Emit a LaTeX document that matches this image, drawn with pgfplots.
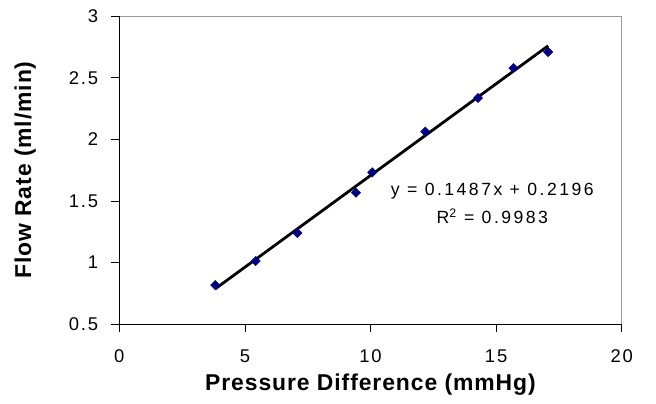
\documentclass[border=0pt]{standalone}
\usepackage{fontspec}
\setmainfont{Liberation Sans}
\newfontfamily\tickfont[LetterSpace=10]{Liberation Sans}
\newfontfamily\eqfont[LetterSpace=14]{Liberation Sans}
\newfontfamily\labfont[LetterSpace=4]{Liberation Sans}
\usepackage{pgfplots}
\pgfplotsset{compat=1.18}
\definecolor{navy}{RGB}{0,0,128}
\begin{document}
\begin{tikzpicture}
\useasboundingbox (-119.3bp,-79.7bp) rectangle (536.7bp,308.3bp+16bp);
\begin{axis}[
  at={(0,0)}, anchor=south west,
  scale only axis,
  width=502.4bp, height=308.3bp,
  xmin=0, xmax=20, ymin=0.5, ymax=3,
  xtick={0,5,10,15,20},
  ytick={0.5,1,1.5,2,2.5,3},
  xtick pos=bottom, ytick pos=left,
  tick align=outside,
  major tick length=8bp,
  tick style={black, line width=0.8bp},
  axis line style={gray!80, line width=0.8bp},
  /pgf/number format/assume math mode=true,
  /pgf/number format/fixed,
  ticklabel style={font=\tickfont\fontsize{18.5}{20}\selectfont, inner sep=0pt},
  xticklabel style={anchor=north, yshift=-17bp},
  yticklabel style={anchor=east, xshift=-13bp},
  xlabel={Pressure Difference (mmHg)},
  ylabel={Flow Rate (ml/min)},
  label style={font=\labfont\bfseries\fontsize{23}{25}\selectfont},
  xlabel style={at={(axis description cs:0.5,0)}, anchor=center, yshift=-60bp},
  ylabel style={at={([xshift=-94bp]axis description cs:0,0.5)}, anchor=center},
  clip=false,
]
\draw[black, line width=0.8bp] (rel axis cs:0,0) -- (rel axis cs:0,1);
\draw[black, line width=0.8bp] (rel axis cs:0,0) -- (rel axis cs:1,0);
\addplot[only marks, mark=square*, mark size=3.3bp, mark options={rotate=45, fill=navy, draw=navy}]
  coordinates {
  (3.82,0.818) (5.43,1.013) (7.09,1.240) (9.42,1.567) (10.07,1.732)
  (12.18,2.062) (14.28,2.335) (15.69,2.578) (17.07,2.708)
  };
\addplot[black, line width=2.8bp, mark=none]
  coordinates {(3.82,0.7876) (17.07,2.7579)};
\node[align=center, font=\eqfont\fontsize{17.7}{29}\selectfont, anchor=center]
  at (axis cs:14.85,1.48) {y = 0.1487x + 0.2196\\R\textsuperscript{2} = 0.9983};
\end{axis}
\end{tikzpicture}
\end{document}
